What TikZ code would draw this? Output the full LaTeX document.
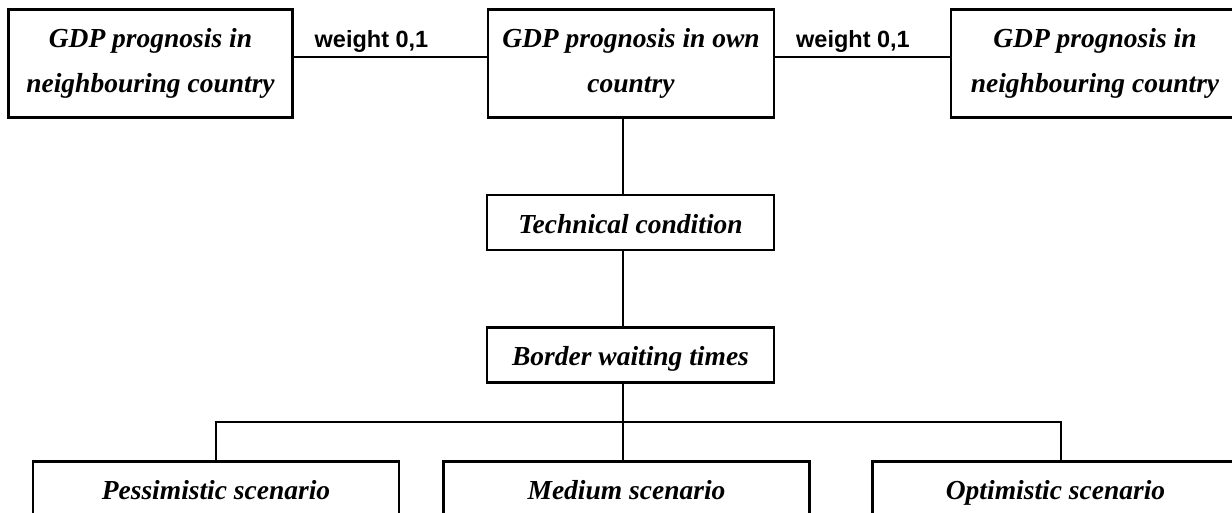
\documentclass[tikz,border=0pt]{standalone}
\usepackage{fontspec}
\setmainfont{Liberation Serif}
\newfontfamily\labelfont{Liberation Sans}
\begin{document}
\begin{tikzpicture}[x=1pt, y=-1pt,
  box/.style={draw, line width=2.2pt, inner sep=0pt, align=center,
    font=\fontsize{27.5}{45}\selectfont\bfseries\itshape},
  topbox/.style={box, minimum height=108pt, inner ysep=0pt},
  midbox/.style={box, minimum width=287pt, minimum height=55pt,
    text height=21pt, text depth=0pt},
  scenbox/.style={box, minimum width=366pt, minimum height=55pt,
    text height=21pt, text depth=0pt},
  wlabel/.style={font=\labelfont\fontsize{23.5}{28}\selectfont\bfseries,
    inner sep=0pt, anchor=base},
  link/.style={line width=2.2pt}]
\useasboundingbox (0,0) rectangle (1232,512);
\clip (0,0) rectangle (1232,512);

% GDP prognosis row
\node[topbox, minimum width=284pt] (left)  at (150.5,63.5) {GDP prognosis in\\neighbouring country};
\node[topbox, minimum width=286pt] (own)   at (631,63.5)   {GDP prognosis in own\\country};
\node[topbox, minimum width=288pt] (right) at (1095,63.5)  {GDP prognosis in\\neighbouring country};

% chain below
\node[midbox] (tech)   at (630.5,222.5) {Technical condition};
\node[midbox] (border) at (630.5,355)   {Border waiting times};

% scenarios
\node[scenbox] (pess) at (216,489)    {Pessimistic scenario};
\node[scenbox] (med)  at (626.5,489)  {Medium scenario};
\node[scenbox] (opt)  at (1055.5,489) {Optimistic scenario};

% weight labels
\node[wlabel] (wl) at (371.5,47) {weight 0,1};
\node[wlabel] (wr) at (853,47)   {weight 0,1};

% helper coordinates for the connector lines
\coordinate (row)   at (0,57);
\coordinate (spine) at (623,0);
\coordinate (bus)   at (0,422);
\coordinate (rdrop) at (1061,0);

\draw[link] (left.east |- row) -- (own.west |- row);
\draw[link] (own.east |- row) -- (right.west |- row);
\draw[link] (own.south -| spine) -- (tech.north -| spine);
\draw[link] (tech.south -| spine) -- (border.north -| spine);
\draw[link] (border.south -| spine) -- (med.north -| spine);
\draw[link] (pess.north) -- (pess.north |- bus) -- (rdrop |- bus) -- (opt.north -| rdrop);
\end{tikzpicture}
\end{document}
